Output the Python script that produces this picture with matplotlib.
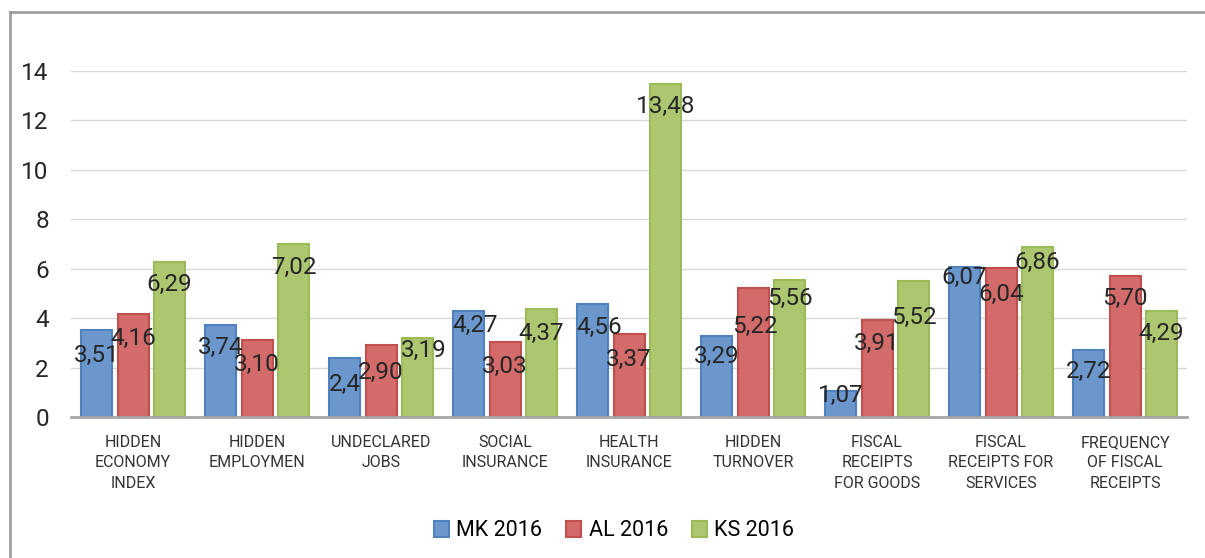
import matplotlib.pyplot as plt
import numpy as np
from matplotlib.lines import Line2D

plt.rcParams['font.family'] = ['Roboto', 'DejaVu Sans']

# categories and values (comma decimals as in the source)
categories = ["HIDDEN\nECONOMY\nINDEX", "HIDDEN\nEMPLOYMEN", "UNDECLARED\nJOBS",
              "SOCIAL\nINSURANCE", "HEALTH\nINSURANCE", "HIDDEN\nTURNOVER",
              "FISCAL\nRECEIPTS\nFOR GOODS", "FISCAL\nRECEIPTS FOR\nSERVICES",
              "FREQUENCY\nOF FISCAL\nRECEIPTS"]
mk_2016 = [3.51, 3.74, 2.4, 4.27, 4.56, 3.29, 1.07, 6.07, 2.72]
al_2016 = [4.16, 3.10, 2.90, 3.03, 3.37, 5.22, 3.91, 6.04, 5.70]
ks_2016 = [6.29, 7.02, 3.19, 4.37, 13.48, 5.56, 5.52, 6.86, 4.29]
mk_text = ["3,51", "3,74", "2,4", "4,27", "4,56", "3,29", "1,07", "6,07", "2,72"]
al_text = ["4,16", "3,10", "2,90", "3,03", "3,37", "5,22", "3,91", "6,04", "5,70"]
ks_text = ["6,29", "7,02", "3,19", "4,37", "13,48", "5,56", "5,52", "6,86", "4,29"]

# label placement tweaks, in pixels below the bar top / right of bar centre
mk_dy = [25, 23, 27, 14, 23, 21, 5, 10, 22]
al_dy = [24, 24, 27, 24, 26, 38, 23, 27, 22]
ks_dy = [23, 24, 12, 24, 23, 19, 37, 15, 22]
mk_dx = [0, 0, 0, 7, 7, 0, 0, 0, 0]
al_dx = [0, 0, 0, 0, 0, 2, 0, 0, 0]
ks_dx = [0, 0, 6, 0, 0, 0, 0, 0, 0]

fig = plt.figure(figsize=(12.05, 5.58), dpi=100)
ax = fig.add_axes([71/1205, 1 - 417/558, (1187 - 71)/1205, (417 - 71)/558])

x = np.arange(len(categories))
w = 0.25
step = 0.294
series = [
    ("MK 2016", mk_2016, mk_text, mk_dx, mk_dy, "#6b97cd", "#4f81bd"),
    ("AL 2016", al_2016, al_text, al_dx, al_dy, "#d36b6a", "#c0504d"),
    ("KS 2016", ks_2016, ks_text, ks_dx, ks_dy, "#adc770", "#9bbb59"),
]
for i, (name, vals, texts, dxs, dys, fc, ec) in enumerate(series):
    pos = x + (i - 1) * step
    ax.bar(pos, vals, w, color=fc, edgecolor=ec, linewidth=1.5, label=name, zorder=3)
    for p, v, t, dx, dy in zip(pos, vals, texts, dxs, dys):
        ax.annotate(t, (p, v), xytext=(dx * 0.72, -dy * 0.72), textcoords="offset points",
                    ha="center", va="center", fontsize=17.5, color="#262626", zorder=5)

ax.set_xlim(-0.5, len(categories) - 0.5)
ax.set_ylim(0, 14)
ax.set_yticks(range(0, 15, 2))
ax.set_xticks(x)
ax.set_xticklabels(categories, fontsize=11.5, color="#333333", linespacing=1.45, va="top")
ax.tick_params(axis="both", length=0)
ax.tick_params(axis="y", labelsize=17.5, pad=16, labelcolor="#262626")
ax.tick_params(axis="x", pad=13)
ax.grid(axis="y", color="#d9d9d9", linewidth=1, zorder=0)
for s in ["top", "right", "left"]:
    ax.spines[s].set_visible(False)
ax.spines["bottom"].set_color("#a6a6a6")
ax.spines["bottom"].set_linewidth(2)
ax.spines["bottom"].set_zorder(4)

fig.legend(loc="center", bbox_to_anchor=(614/1205, 1 - 531/558), ncol=3, frameon=False,
           fontsize=15.5, handlelength=0.7, handleheight=0.7, columnspacing=1.1,
           handletextpad=0.35)

# outer frame line (top and left only visible)
fig.add_artist(Line2D([10/1205, 10/1205], [0, 1 - 12/558], color="#a0a0a0", linewidth=2))
fig.add_artist(Line2D([10/1205, 1], [1 - 12/558, 1 - 12/558], color="#a0a0a0", linewidth=2))

fig.savefig("out.png", dpi=100)
